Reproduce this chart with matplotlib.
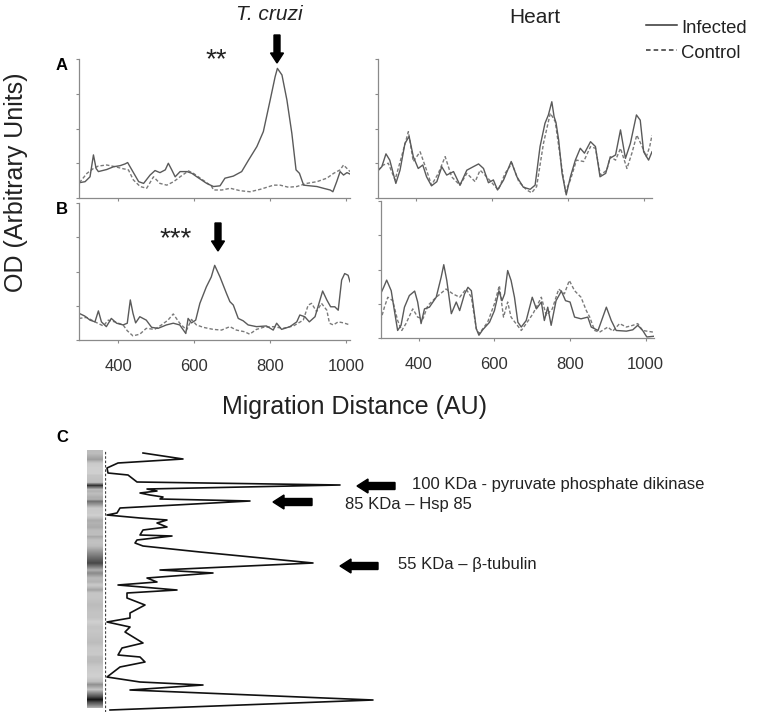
import numpy as np
import matplotlib
matplotlib.use("Agg")
import matplotlib.pyplot as plt
from matplotlib.patches import FancyArrow
from matplotlib.lines import Line2D

plt.rcParams['font.family'] = ['Liberation Sans', 'DejaVu Sans']

# ---------------- data ----------------
# Panel A, T. cruzi
a_tc_inf_x = [298, 313, 326, 335, 342, 348, 370, 388, 405, 418, 425, 436, 454, 467, 484, 497, 510, 524, 532, 541, 550, 563, 581, 594, 607, 633, 651, 668, 681, 703, 725, 743, 765, 782, 800, 813, 819, 831, 844, 857, 868, 877, 888, 905, 923, 940, 958, 965, 975, 984, 993, 1002, 1010]
a_tc_inf_y = [0.44, 0.47, 0.61, 1.24, 0.85, 0.76, 0.82, 0.90, 0.93, 0.98, 1.02, 0.81, 0.47, 0.42, 0.66, 0.79, 0.73, 0.81, 1.00, 0.81, 0.61, 0.76, 0.76, 0.71, 0.61, 0.42, 0.33, 0.35, 0.57, 0.63, 0.76, 1.09, 1.48, 1.91, 2.82, 3.49, 3.73, 3.54, 2.82, 1.86, 0.81, 0.71, 0.37, 0.35, 0.33, 0.28, 0.23, 0.18, 0.47, 0.76, 0.66, 0.73, 0.69]
a_tc_ctl_x = [298, 318, 335, 348, 370, 392, 410, 427, 440, 458, 475, 493, 510, 528, 546, 563, 585, 598, 616, 633, 646, 651, 673, 695, 721, 747, 774, 809, 826, 848, 870, 896, 923, 949, 967, 984, 993, 1002, 1010]
a_tc_ctl_y = [0.44, 0.71, 0.85, 0.92, 0.95, 0.90, 0.85, 0.81, 0.52, 0.33, 0.28, 0.61, 0.42, 0.37, 0.47, 0.61, 0.78, 0.71, 0.57, 0.44, 0.33, 0.23, 0.23, 0.28, 0.21, 0.18, 0.25, 0.37, 0.37, 0.31, 0.33, 0.42, 0.47, 0.57, 0.71, 0.81, 0.95, 0.85, 0.76]

# Panel A, Heart
a_h_inf_x = [301, 310, 321, 331, 347, 358, 371, 382, 393, 406, 418, 428, 441, 455, 468, 481, 499, 516, 534, 551, 565, 578, 591, 604, 615, 631, 651, 666, 683, 701, 714, 727, 740, 749, 758, 764, 769, 776, 785, 796, 807, 820, 833, 844, 860, 873, 885, 900, 911, 926, 939, 952, 965, 981, 991, 1000, 1013, 1022]
a_h_inf_y = [0.80, 0.90, 1.27, 1.09, 0.42, 0.80, 1.57, 1.77, 1.19, 0.85, 0.95, 0.61, 0.35, 0.47, 0.90, 0.66, 0.76, 0.37, 0.80, 0.90, 0.98, 0.85, 0.44, 0.52, 0.23, 0.52, 1.05, 0.61, 0.31, 0.25, 0.37, 1.48, 2.15, 2.39, 2.77, 2.34, 2.17, 1.67, 0.71, 0.09, 0.61, 1.09, 1.43, 1.29, 1.62, 1.48, 0.61, 0.71, 1.14, 1.24, 1.96, 1.14, 1.57, 2.39, 2.24, 1.33, 1.09, 1.33]
a_h_ctl_x = [301, 314, 327, 345, 362, 380, 393, 411, 428, 441, 459, 477, 494, 516, 534, 556, 569, 582, 600, 617, 635, 653, 671, 692, 705, 718, 736, 754, 767, 780, 794, 807, 823, 842, 860, 873, 886, 903, 912, 926, 939, 956, 969, 982, 996, 1007, 1016, 1022]
a_h_ctl_y = [0.80, 0.95, 1.00, 0.52, 1.19, 1.91, 1.05, 1.33, 0.80, 0.37, 0.71, 1.19, 0.61, 0.37, 0.71, 0.47, 0.80, 0.66, 0.44, 0.23, 0.71, 1.00, 0.47, 0.23, 0.15, 0.33, 1.57, 2.44, 2.20, 1.19, 0.18, 0.52, 1.09, 1.05, 1.48, 1.43, 0.66, 0.80, 1.19, 1.09, 1.43, 0.85, 1.29, 1.81, 1.48, 1.19, 1.48, 1.81]

# Panel B, T. cruzi
b_tc_inf_x = [297, 312, 326, 339, 348, 356, 369, 382, 396, 413, 424, 432, 439, 446, 457, 474, 488, 505, 527, 545, 562, 578, 584, 593, 604, 615, 632, 645, 654, 668, 685, 694, 703, 716, 729, 742, 764, 790, 808, 817, 830, 852, 870, 878, 891, 903, 918, 938, 949, 959, 970, 979, 988, 996, 1005, 1010]
b_tc_inf_y = [0.78, 0.70, 0.58, 0.53, 0.85, 0.53, 0.39, 0.63, 0.49, 0.44, 0.49, 1.17, 0.78, 0.50, 0.68, 0.58, 0.37, 0.34, 0.44, 0.49, 0.44, 0.19, 0.63, 0.50, 0.58, 1.07, 1.55, 1.84, 2.18, 1.84, 1.36, 1.12, 1.02, 0.63, 0.56, 0.44, 0.39, 0.41, 0.29, 0.49, 0.31, 0.39, 0.53, 0.73, 0.68, 0.53, 0.68, 1.43, 1.17, 0.97, 0.97, 0.87, 1.75, 1.94, 1.89, 1.70]
b_tc_ctl_x = [297, 317, 339, 361, 374, 391, 413, 424, 439, 457, 474, 496, 514, 531, 545, 562, 580, 593, 606, 624, 650, 672, 694, 711, 733, 746, 764, 782, 808, 834, 861, 887, 900, 909, 922, 935, 949, 956, 966, 979, 993, 1010]
b_tc_ctl_y = [0.63, 0.66, 0.53, 0.41, 0.58, 0.53, 0.44, 0.27, 0.12, 0.17, 0.34, 0.31, 0.44, 0.58, 0.76, 0.49, 0.29, 0.60, 0.44, 0.37, 0.31, 0.29, 0.39, 0.29, 0.24, 0.17, 0.31, 0.37, 0.39, 0.34, 0.41, 0.58, 1.02, 1.07, 0.83, 1.07, 0.87, 0.49, 0.44, 0.53, 0.50, 0.44]

# Panel B, Heart
b_h_inf_x = [299, 307, 315, 327, 336, 344, 353, 362, 375, 389, 397, 406, 415, 428, 446, 459, 466, 474, 486, 499, 508, 521, 530, 539, 552, 559, 569, 587, 600, 612, 620, 627, 635, 644, 653, 662, 671, 684, 700, 711, 724, 732, 741, 750, 763, 777, 788, 800, 812, 829, 847, 856, 874, 885, 896, 909, 922, 949, 966, 979, 992, 1003, 1021]
b_h_inf_y = [1.29, 1.48, 1.69, 1.38, 0.76, 0.22, 0.37, 0.90, 1.24, 1.37, 1.05, 0.42, 0.85, 0.90, 1.19, 1.77, 2.14, 1.68, 0.71, 1.05, 0.80, 1.29, 1.48, 1.38, 0.27, 0.08, 0.24, 0.46, 0.80, 1.38, 1.09, 1.29, 1.97, 1.68, 1.19, 0.46, 0.32, 0.51, 1.19, 0.85, 1.05, 0.51, 0.90, 0.37, 1.09, 1.37, 1.09, 1.05, 0.61, 0.56, 0.61, 0.32, 0.22, 0.56, 0.90, 0.51, 0.22, 0.20, 0.24, 0.37, 0.22, 0.03, 0.05]
b_h_ctl_x = [299, 309, 318, 331, 344, 355, 366, 384, 397, 411, 424, 446, 472, 490, 508, 525, 539, 552, 560, 582, 600, 613, 624, 635, 644, 657, 671, 684, 702, 724, 737, 753, 770, 785, 798, 812, 829, 843, 852, 865, 878, 900, 913, 931, 949, 966, 979, 992, 1003, 1021]
b_h_ctl_y = [0.51, 0.90, 1.19, 1.09, 0.51, 0.22, 0.42, 0.85, 0.61, 0.56, 0.95, 1.19, 1.43, 1.29, 1.19, 1.43, 1.19, 0.27, 0.13, 0.46, 1.00, 1.53, 0.61, 1.05, 0.61, 0.42, 0.22, 0.42, 0.71, 1.19, 0.66, 0.85, 1.43, 1.29, 1.68, 1.38, 1.19, 0.80, 0.61, 0.22, 0.17, 0.32, 0.20, 0.42, 0.32, 0.37, 0.42, 0.22, 0.20, 0.17]

# Panel C densitometry profile (lane position from top, intensity)
c_pos = [3, 9, 13, 18, 23, 25, 32, 35, 39, 41, 43, 45, 47, 49, 51, 58, 63, 65, 68, 70, 73, 77, 80, 85, 86, 90, 93, 96, 102, 113, 120, 123, 128, 132, 135, 140, 143, 148, 155, 163, 168, 172, 177, 182, 193, 198, 205, 207, 212, 217, 227, 232, 235, 240, 250, 260]
c_int = [38, 78, 13, 2, 3, 23, 32, 235, 42, 52, 35, 45, 58, 55, 145, 15, 12, 2, 35, 62, 52, 62, 38, 35, 67, 32, 30, 38, 95, 208, 55, 108, 42, 52, 13, 72, 22, 22, 40, 25, 25, 2, 25, 20, 38, 17, 13, 35, 40, 15, 2, 35, 98, 25, 268, 5]

x_ticks = [400, 600, 800, 1000]
y_ticks = [0, 1, 2, 3, 4]
band_labels = ["100 KDa - pyruvate phosphate dikinase", "85 KDa \u2013 Hsp 85", "55 KDa \u2013 \u03b2-tubulin"]

# ---------------- layout ----------------
W, H = 758, 715
fig = plt.figure(figsize=(W / 100, H / 100), dpi=100)

def rect(x0, y0, x1, y1):
    return [x0 / W, 1 - y1 / H, (x1 - x0) / W, (y1 - y0) / H]

def px(x, y):
    return (x / W, 1 - y / H)

TXT = '#222222'
SPINE = '#8a8a8a'
INF_C = '#5a5a5a'
CTL_C = '#7a7a7a'

def style(ax, xlim, labels):
    ax.set_xlim(*xlim)
    ax.set_ylim(0, 4)
    ax.set_xticks(x_ticks)
    ax.set_yticks(y_ticks)
    ax.set_yticklabels([])
    if not labels:
        ax.set_xticklabels([])
    for s in ['top', 'right']:
        ax.spines[s].set_visible(False)
    for s in ['left', 'bottom']:
        ax.spines[s].set_color(SPINE)
        ax.spines[s].set_linewidth(0.9)
    ax.tick_params(direction='out', length=2.5, width=0.8, color=SPINE,
                   labelsize=12, labelcolor='#333333', pad=11)
    ax.patch.set_alpha(0)

axA1 = fig.add_axes(rect(79, 59, 350, 198))
axB1 = fig.add_axes(rect(79, 203, 350, 340))
axA2 = fig.add_axes(rect(378, 59, 652, 198))
axB2 = fig.add_axes(rect(381, 201, 654, 338))

for ax, xi, yi, xc, yc, xlim, lab in [
        (axA1, a_tc_inf_x, a_tc_inf_y, a_tc_ctl_x, a_tc_ctl_y, (297, 1010), False),
        (axB1, b_tc_inf_x, b_tc_inf_y, b_tc_ctl_x, b_tc_ctl_y, (297, 1010), True),
        (axA2, a_h_inf_x, a_h_inf_y, a_h_ctl_x, a_h_ctl_y, (300, 1022), False),
        (axB2, b_h_inf_x, b_h_inf_y, b_h_ctl_x, b_h_ctl_y, (300, 1022), True)]:
    ax.plot(xc, yc, color=CTL_C, lw=1.0, ls=(0, (2.5, 1.5)))
    ax.plot(xi, yi, color=INF_C, lw=1.0)
    style(ax, xlim, lab)

# titles and labels
fig.text(*px(269, 20), "T. cruzi", fontsize=15, style='italic', color=TXT, ha='center', va='baseline')
fig.text(*px(535, 23), "Heart", fontsize=15, color=TXT, ha='center', va='baseline')
fig.text(*px(354, 414), "Migration Distance (AU)", fontsize=18, color=TXT, ha='center', va='baseline')
fig.text(*px(16, 182), "OD (Arbitrary Units)", fontsize=18, color=TXT, ha='center', va='center', rotation=90)
for lab, (x, y) in zip("ABC", [(62, 65), (62, 209), (62, 438)]):
    fig.text(*px(x, y), lab, fontsize=12, fontweight='bold', color='black', ha='center', va='center')
fig.text(*px(216, 60), "**", fontsize=20, color=TXT, ha='center', va='center')
fig.text(*px(176, 239), "***", fontsize=20, color=TXT, ha='center', va='center')

# legend
fig.add_artist(Line2D([646 / W, 677 / W], [1 - 25 / H] * 2, color='#333333', lw=1.1))
fig.add_artist(Line2D([646 / W, 677 / W], [1 - 50 / H] * 2, color='#333333', lw=1.1, ls=(0, (3, 2))))
fig.text(*px(681, 33), "Infected", fontsize=13.3, color=TXT, ha='left', va='baseline')
fig.text(*px(681, 58), "Control", fontsize=13.3, color=TXT, ha='left', va='baseline')

# arrows (pixel geometry -> inches)
def arrow(x0, y0, x1, y1, w=6, hw=13, hl=10):
    fig.add_artist(FancyArrow(x0 / 100, (H - y0) / 100, (x1 - x0) / 100, -(y1 - y0) / 100,
                              width=w / 100, head_width=hw / 100, head_length=hl / 100,
                              length_includes_head=True, color='black',
                              transform=fig.dpi_scale_trans))

arrow(277, 35, 277, 63)
arrow(218, 223, 218, 251)
arrow(395, 486, 357, 486, w=7, hw=14, hl=11)
arrow(312, 502, 273, 502, w=7, hw=14, hl=11)
arrow(378, 566, 340, 566, w=7, hw=14, hl=11)

fig.text(*px(412, 484), band_labels[0], fontsize=12, color=TXT, ha='left', va='center')
fig.text(*px(345, 504), band_labels[1], fontsize=12, color=TXT, ha='left', va='center')
fig.text(*px(398, 565), band_labels[2], fontsize=12, color=TXT, ha='left', va='center')

# Panel C: gel lane image + profile
axC = fig.add_axes(rect(105, 450, 385, 712))
axC.plot(c_int, c_pos, color='#111111', lw=1.2)
axC.set_xlim(0, 280)
axC.set_ylim(262, 0)
axC.axis('off')
axC.axvline(0, color='#444444', lw=0.9, ls=(0, (2, 1.5)))

axL = fig.add_axes(rect(87, 450, 103, 708))
grid = np.arange(0, 259)
lane = np.interp(grid, c_pos, c_int)
axL.imshow(np.column_stack([lane, lane, lane, lane]), cmap='Greys', vmin=-120, vmax=300,
           aspect='auto', interpolation='bilinear')
axL.axis('off')

fig.savefig("out.png", dpi=100)
